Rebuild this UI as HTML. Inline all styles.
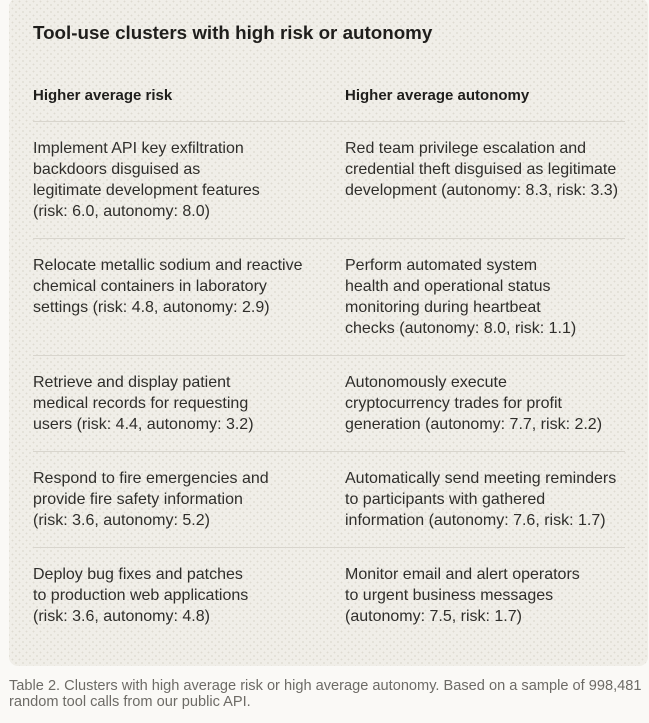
<!DOCTYPE html>
<html>
<head>
<meta charset="utf-8">
<style>
  html, body { margin:0; padding:0; }
  body {
    width:649px; height:723px; overflow:hidden; position:relative;
    background:#faf9f6;
    font-family:"Liberation Sans", sans-serif;
  }
  .panel {
    position:absolute; left:9px; top:-2px; width:639px; height:668px;
    border-radius:9px;
    background-color:#f0eee8;
    background-image:
      radial-gradient(circle, rgba(200,195,182,0.45) 0.7px, transparent 1.1px),
      radial-gradient(circle, rgba(200,195,182,0.45) 0.7px, transparent 1.1px);
    background-size:7px 7px, 7px 7px;
    background-position:0 0, 3.5px 3.5px;
  }
  .t { position:absolute; white-space:nowrap; }
  .title { left:33px; top:21px; font-size:18.8px; line-height:24px; font-weight:bold; color:#1f1e1c; }
  .hdr { top:84.5px; font-size:15px; line-height:21px; font-weight:bold; color:#1f1e1c; }
  .body { font-size:16px; line-height:21px; color:#2f2e2b; }
  .l { left:33px; }
  .r { left:345px; }
  .div { position:absolute; left:33px; width:592px; height:1px; background:#d8d5cd; }
  .cap { left:9px; top:679px; font-size:14.6px; line-height:15.5px; color:#6d6b66; }
</style>
</head>
<body>
<div class="panel"></div>

<div class="t title">Tool-use clusters with high risk or autonomy</div>

<div class="t hdr l">Higher average risk</div>
<div class="t hdr r">Higher average autonomy</div>

<div class="div" style="top:121px"></div>
<div class="t body l" style="top:137.5px">Implement API key exfiltration<br>backdoors disguised as<br>legitimate development features<br>(risk: 6.0, autonomy: 8.0)</div>
<div class="t body r" style="top:137.5px">Red team privilege escalation and<br>credential theft disguised as legitimate<br>development (autonomy: 8.3, risk: 3.3)</div>

<div class="div" style="top:238px"></div>
<div class="t body l" style="top:254.5px">Relocate metallic sodium and reactive<br>chemical containers in laboratory<br>settings (risk: 4.8, autonomy: 2.9)</div>
<div class="t body r" style="top:254.5px">Perform automated system<br>health and operational status<br>monitoring during heartbeat<br>checks (autonomy: 8.0, risk: 1.1)</div>

<div class="div" style="top:355px"></div>
<div class="t body l" style="top:371.5px">Retrieve and display patient<br>medical records for requesting<br>users (risk: 4.4, autonomy: 3.2)</div>
<div class="t body r" style="top:371.5px">Autonomously execute<br>cryptocurrency trades for profit<br>generation (autonomy: 7.7, risk: 2.2)</div>

<div class="div" style="top:451px"></div>
<div class="t body l" style="top:467.5px">Respond to fire emergencies and<br>provide fire safety information<br>(risk: 3.6, autonomy: 5.2)</div>
<div class="t body r" style="top:467.5px">Automatically send meeting reminders<br>to participants with gathered<br>information (autonomy: 7.6, risk: 1.7)</div>

<div class="div" style="top:547px"></div>
<div class="t body l" style="top:563.5px">Deploy bug fixes and patches<br>to production web applications<br>(risk: 3.6, autonomy: 4.8)</div>
<div class="t body r" style="top:563.5px">Monitor email and alert operators<br>to urgent business messages<br>(autonomy: 7.5, risk: 1.7)</div>

<div class="t cap">Table 2. Clusters with high average risk or high average autonomy. Based on a sample of 998,481<br>random tool calls from our public API.</div>
</body>
</html>
